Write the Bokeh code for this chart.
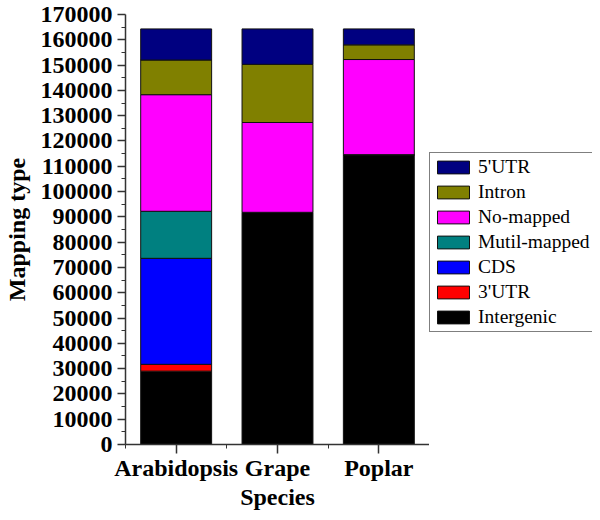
from bokeh.plotting import figure
from bokeh.layouts import row
from bokeh.models import (ColumnDataSource, Range1d, FixedTicker, Legend, LegendItem)
from bokeh.embed import file_html
from bokeh.resources import INLINE

species = ["Arabidopsis", "Grape", "Poplar"]
types = ["Intergenic", "3'UTR", "CDS", "Mutil-mapped", "No-mapped", "Intron", "5'UTR"]
colors = ["#000000", "#FF0000", "#0000FF", "#008080", "#FF00FF", "#808000", "#000080"]

intergenic = [29000, 91800, 114600]
utr3 = [2700, 0, 0]
cds = [41900, 0, 0]
mutil = [18600, 0, 0]
nomapped = [46100, 35500, 37600]
intron = [13700, 23000, 5800]
utr5 = [12300, 14000, 6300]

y_ticks = list(range(0, 170001, 10000))

x_pos = [i + 0.5 for i in range(len(species))]
source = ColumnDataSource(data={
    "x": x_pos,
    "Intergenic": intergenic,
    "3'UTR": utr3,
    "CDS": cds,
    "Mutil-mapped": mutil,
    "No-mapped": nomapped,
    "Intron": intron,
    "5'UTR": utr5,
})

H = 512
p = figure(width=429, height=H, output_backend="svg", toolbar_location=None,
           x_range=Range1d(0, len(species)), y_range=Range1d(0, 170000),
           min_border_left=123, min_border_right=0, min_border_top=14, min_border_bottom=56)
p.outline_line_color = None
p.grid.grid_line_color = None
p.background_fill_color = "white"

renderers = p.vbar_stack(types, x="x", width=0.7, source=source, color=colors,
                         line_color="#111111", line_width=1)
for r, c in zip(renderers, colors):
    r.glyph.fill_color = c
    r.glyph.line_color = "#111111"

font = "Liberation Serif"

# x axis
xa = p.xaxis[0]
xa.ticker = FixedTicker(ticks=x_pos, minor_ticks=[float(i) for i in range(len(species) + 1)])
xa.major_label_overrides = {x: s for x, s in zip(x_pos, species)}
xa.axis_label = "Species"
xa.major_tick_out = 9
xa.major_tick_in = 0
xa.minor_tick_out = 4
xa.minor_tick_in = 0
xa.major_label_standoff = 1
xa.axis_label_standoff = 0

# y axis
ya = p.yaxis[0]
ya.ticker = FixedTicker(ticks=y_ticks, minor_ticks=[t + 5000 for t in y_ticks[:-1]])
ya.formatter.use_scientific = False
ya.axis_label = "Mapping type"
ya.major_tick_out = 8
ya.major_tick_in = 0
ya.minor_tick_out = 4
ya.minor_tick_in = 0
ya.major_label_standoff = 5
ya.axis_label_standoff = 8

for ax in (xa, ya):
    ax.axis_line_color = "#333333"
    ax.axis_line_width = 1.5
    ax.major_tick_line_color = "#333333"
    ax.minor_tick_line_color = "#333333"
    ax.major_tick_line_width = 1.5
    ax.minor_tick_line_width = 1
    ax.major_label_text_font = font
    ax.major_label_text_font_style = "bold"
    ax.major_label_text_font_size = "24px"
    ax.major_label_text_color = "black"
    ax.axis_label_text_font = font
    ax.axis_label_text_font_style = "bold"
    ax.axis_label_text_font_size = "24px"
    ax.axis_label_text_color = "black"

# legend panel (separate figure placed to the right of the chart)
q = figure(width=163, height=H, output_backend="svg", toolbar_location=None,
           x_range=Range1d(10, 11), y_range=Range1d(0, 1),
           x_axis_location=None, y_axis_location=None,
           min_border=0)
q.outline_line_color = None
q.grid.grid_line_color = None
legend_renderers = q.vbar_stack(types, x="x", width=0.7, source=source, color=colors,
                                line_color="#111111", line_width=1)
for r, c in zip(legend_renderers, colors):
    r.glyph.fill_color = c
    r.glyph.line_color = "#111111"
    r.visible = False

items = [LegendItem(label=t, renderers=[r]) for t, r in zip(types, legend_renderers)][::-1]
legend = Legend(items=items, location=(0, 112))
legend.border_line_color = "black"
legend.border_line_width = 1
legend.padding = 3
legend.spacing = 3
legend.margin = 0
legend.glyph_width = 40
legend.glyph_height = 16
legend.label_standoff = 5
legend.label_height = 20
legend.label_text_font = font
legend.label_text_font_size = "19.5px"
legend.label_text_color = "black"
legend.background_fill_alpha = 1
legend.inactive_fill_alpha = 0
q.add_layout(legend, "center")

layout = row(p, q, spacing=0)
open("out.html", "w").write(file_html(layout, INLINE))
